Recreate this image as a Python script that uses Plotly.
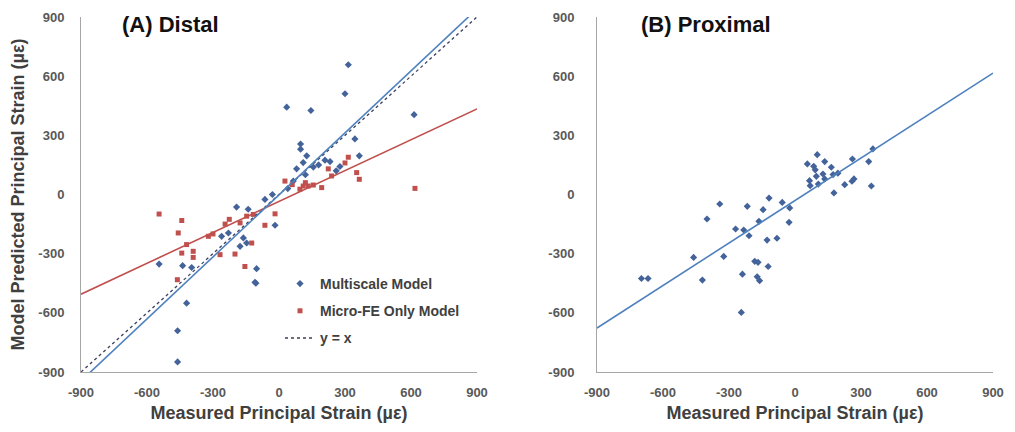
import plotly.graph_objects as go

# ---------------- data ----------------
# (A) Distal - Multiscale model
distal_multi_x = [35, 145, 315, 300, 614, 345, 98, 98, 126, 110, 365, 209, 232, 156, 80, 277, 65,
                  -64, -545, -397, -420, -461, -461, -105, -261, -230, -193, -162, -177, -147,
                  -102, -109, -18, -140, 40, 180, 260, 120, -438, -30]
distal_multi_y = [443, 426, 658, 511, 405, 282, 256, 230, 196, 162, 196, 174, 167, 139, 130, 142, 68,
                  -25, -353, -370, -551, -691, -849, -450, -212, -195, -64, -220, -263, -246,
                  -376, -445, -156, -75, 30, 150, 120, 100, -361, 0]
# (A) Distal - Micro-FE only model
distal_micro_x = [-545, -442, -458, -420, -442, -390, -390, -462, -321, -268, -200, -226, -177, -147,
                  -117, -124, -155, -18, -64, 315, 300, 224, 239, 353, 365, 27, 110, 133, 156, 194,
                  95, 618, -245, 60, -300, 120]
distal_micro_y = [-99, -132, -195, -254, -297, -288, -319, -432, -212, -305, -302, -126, -144, -110,
                  -101, -246, -365, -98, -156, 189, 160, 130, 94, 111, 77, 68, 43, 43, 48, 35,
                  27, 31, -150, 50, -200, 60]
# (B) Proximal - Multiscale model
prox_x = [-698, -668, -461, -421, -400, -342, -324, -270, -244, -239, -233, -217, -209, -183, -168,
          -172, -161, -164, -145, -127, -122, -118, -82, -58, -27, -24, 56, 66, 69, 85, 101, 97,
          106, 127, 135, 135, 165, 173, 195, 177, 226, 259, 268, 261, 335, 347, 354, 92]
prox_y = [-426, -426, -319, -434, -124, -48, -314, -175, -598, -404, -180, -60, -209, -339, -344,
          -417, -437, -136, -77, -231, -365, -18, -222, -40, -141, -68, 155, 70, 45, 143, 202, 92,
          53, 104, 167, 79, 138, 101, 108, 8, 50, 67, 79, 180, 167, 43, 231, 125]

# fitted lines (slope, intercept)
distal_multi_fit = (1.048, -2.0)
distal_micro_fit = (0.522, -35.5)
prox_fit = (0.718, -30.6)
fit_range = [-900, 900]
identity = [-900, 900]

tick_vals = [-900, -600, -300, 0, 300, 600, 900]
tick_text = ["-900", "-600", "-300", "0", "300", "600", "900"]

BLUE = "#44639a"
BLUE_LINE = "#4f81bd"
RED = "#c0504d"
FONT = "Liberation Sans"

# page body has an 8px margin: figure is drawn at (8, 8) in the window
W, H = 999, 416
OFF = 8


def px(x):
    return (x - OFF) / W


def py(y):
    return 1 - (y - OFF) / H


fig = go.Figure()


def fit_y(fit):
    return [fit[0] * v + fit[1] for v in fit_range]


# Left panel (legend order = trace order)
fig.add_trace(go.Scatter(x=distal_multi_x, y=distal_multi_y, mode="markers",
                         marker=dict(symbol="diamond", size=5.5, color=BLUE),
                         name="<b>Multiscale Model</b>", legendgroup="a",
                         xaxis="x", yaxis="y"))
fig.add_trace(go.Scatter(x=distal_micro_x, y=distal_micro_y, mode="markers",
                         marker=dict(symbol="square", size=5, color=RED),
                         name="<b>Micro-FE Only Model</b>", legendgroup="b",
                         xaxis="x", yaxis="y"))
fig.add_trace(go.Scatter(x=identity, y=identity, mode="lines",
                         line=dict(color="#3a3f5c", width=1.3, dash="dot"),
                         name="<b>y = x</b>", legendgroup="c",
                         xaxis="x", yaxis="y"))
fig.add_trace(go.Scatter(x=fit_range, y=fit_y(distal_micro_fit), mode="lines",
                         line=dict(color=RED, width=1.6), showlegend=False,
                         xaxis="x", yaxis="y"))
fig.add_trace(go.Scatter(x=fit_range, y=fit_y(distal_multi_fit), mode="lines",
                         line=dict(color=BLUE_LINE, width=1.6), showlegend=False,
                         xaxis="x", yaxis="y"))

# Right panel
fig.add_trace(go.Scatter(x=prox_x, y=prox_y, mode="markers",
                         marker=dict(symbol="diamond", size=5.5, color=BLUE),
                         showlegend=False, xaxis="x2", yaxis="y2"))
fig.add_trace(go.Scatter(x=fit_range, y=fit_y(prox_fit), mode="lines",
                         line=dict(color=BLUE_LINE, width=1.6), showlegend=False,
                         xaxis="x2", yaxis="y2"))

axis_common = dict(range=[-900, 900], tickvals=tick_vals,
                   ticktext=["<b>%s</b>" % t for t in tick_text],
                   showgrid=False, zeroline=False, showline=True, linecolor="#a6a6a6",
                   linewidth=1, ticks="", automargin=False, ticklabeloverflow="allow",
                   tickfont=dict(family=FONT, size=13, color="#595959"))
xtitle = dict(text="<b>Measured Principal Strain (µε)</b>",
              font=dict(family=FONT, size=18, color="#404040"), standoff=7)

ydom = [py(372), py(17)]
fig.update_layout(
    width=W, height=H,
    margin=dict(l=0, r=0, t=0, b=0),
    paper_bgcolor="white", plot_bgcolor="white",
    font=dict(family=FONT),
    xaxis=dict(domain=[px(81), px(477)], anchor="y", title=xtitle,
               ticklabelstandoff=8, **axis_common),
    yaxis=dict(domain=ydom, anchor="x",
               title=dict(text="<b>Model Predicted Principal Strain (µε)</b>",
                          font=dict(family=FONT, size=18, color="#404040"), standoff=10),
               ticklabelstandoff=13, **axis_common),
    xaxis2=dict(domain=[px(597), px(993)], anchor="y2", title=xtitle,
                ticklabelstandoff=8, **axis_common),
    yaxis2=dict(domain=ydom, anchor="x2", ticklabelstandoff=19, **axis_common),
    legend=dict(x=px(280), y=py(268), xanchor="left", yanchor="top",
                bgcolor="rgba(0,0,0,0)", tracegroupgap=6,
                font=dict(family=FONT, size=14, color="#404040"),
                traceorder="grouped"),
    annotations=[
        dict(text="<b>(A) Distal</b>", x=px(120), y=py(25), xref="paper", yref="paper",
             xanchor="left", yanchor="middle", showarrow=False,
             font=dict(family=FONT, size=22, color="#111111")),
        dict(text="<b>(B) Proximal</b>", x=px(639), y=py(25), xref="paper", yref="paper",
             xanchor="left", yanchor="middle", showarrow=False,
             font=dict(family=FONT, size=22, color="#111111")),
    ],
)

fig.write_html("out.html")
